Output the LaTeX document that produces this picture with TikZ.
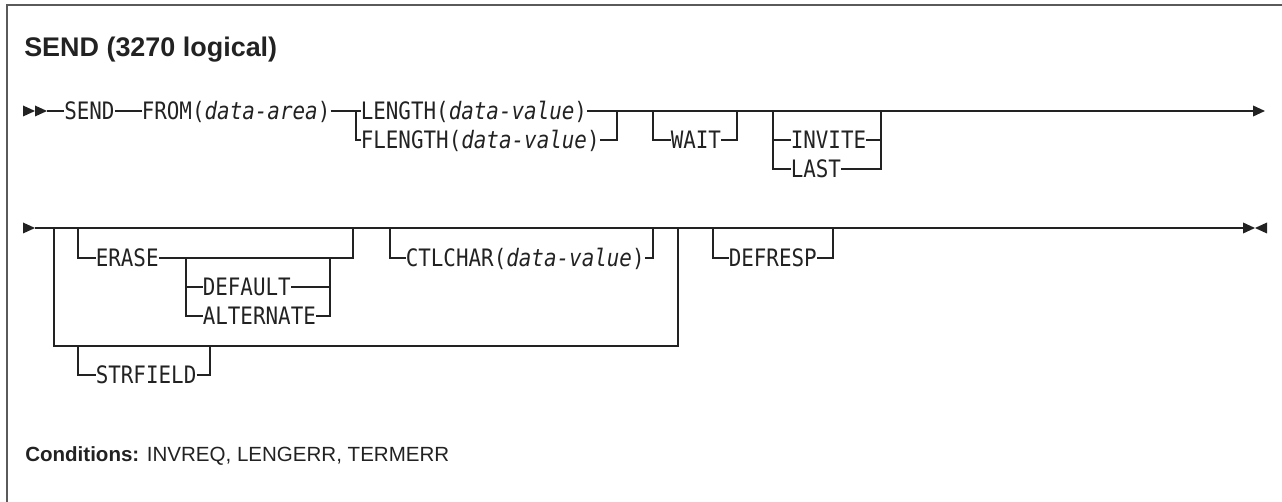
\documentclass[tikz,border=0pt]{standalone}
\usepackage{fontspec}
\setmainfont{Liberation Sans}
\newfontfamily\syn[FakeStretch=0.87,ItalicFont={DejaVu Sans Mono Oblique}]{DejaVu Sans Mono}
\usetikzlibrary{arrows.meta}
\definecolor{ink}{HTML}{222222}
\definecolor{frame}{HTML}{5A5A5A}
\begin{document}
\begin{tikzpicture}[x=0.75pt,y=-0.75pt,
  txt/.style={font=\syn\fontsize{18}{20}\selectfont, anchor=west, inner xsep=0pt, inner ysep=0pt, text height=13.1pt, text depth=0pt, text=ink},
  rr/.style={draw=ink, line width=1.15pt},
  endarrow/.style={-{Triangle[length=9pt,width=8pt]}},
  tip/.style={fill=ink}]
\useasboundingbox (0,0) rectangle (1282,502);
% frame
\draw[frame, line width=1.8pt] (7,502) -- (7,5) -- (1282,5);
% title
\node[anchor=base west, inner sep=0pt, text=ink, font=\bfseries\fontsize{20.2}{24}\selectfont] (title) at (24,57) {SEND (3270 logical)};
% ---------- row 1 ----------
\coordinate (s1) at (47,111);
\coordinate (e1) at (1265,111);
\fill[tip] (23,105.5) -- (35,111) -- (23,116.5) -- cycle;
\fill[tip] (35,105.5) -- (47,111) -- (35,116.5) -- cycle;
\node[txt] (send) at (64,111) {SEND};
\node[txt] (from) at (141.5,111) {FROM(\textit{data-area})};
\node[txt] (len) at (360.5,111) {LENGTH(\textit{data-value})};
\node[txt] (flen) at (360.5,140) {FLENGTH(\textit{data-value})};
\node[txt] (wait) at (670.5,140) {WAIT};
\node[txt] (inv) at (790.5,140) {INVITE};
\node[txt] (last) at (790.5,169) {LAST};
\coordinate (b1l) at (356,111);
\coordinate (b1r) at (617,111);
\coordinate (w1l) at (653,111);
\coordinate (w1r) at (737,111);
\coordinate (i1l) at (773,111);
\coordinate (i1r) at (881,111);
\draw[rr] (s1) -- (send.west);
\draw[rr] (send.east) -- (from.west);
\draw[rr] (from.east) -- (len.west);
\draw[rr,endarrow] (len.east) -- (e1);
\draw[rr] (b1l) |- (flen.west);
\draw[rr] (flen.east) -| (b1r);
\draw[rr] (w1l) |- (wait.west);
\draw[rr] (wait.east) -| (w1r);
\draw[rr] (i1l) |- (last.west);
\draw[rr] (i1l |- inv.west) -- (inv.west);
\draw[rr] (inv.east) -- (i1r |- inv.east);
\draw[rr] (last.east) -| (i1r);
% ---------- row 2 ----------
\coordinate (s2) at (35,228);
\coordinate (e2) at (1255,228);
\fill[tip] (23,222.5) -- (35,228) -- (23,233.5) -- cycle;
\draw[rr,endarrow] (s2) -- (e2);
\fill[tip] (1267,222.5) -- (1255,228) -- (1267,233.5) -- cycle;
% big choice loop
\coordinate (L) at (54,228);
\coordinate (Lb) at (54,346);
\coordinate (Rb) at (678,346);
\coordinate (R) at (678,228);
\draw[rr] (L) -- (Lb) -- (Rb) -- (R);
% ERASE
\coordinate (erl) at (78,228);
\coordinate (err) at (353,228);
\node[txt] (erase) at (95.5,258) {ERASE};
\draw[rr] (erl) |- (erase.west);
\draw[rr] (erase.east) -| (err);
% DEFAULT / ALTERNATE
\coordinate (dl) at (186,258);
\coordinate (dr) at (330,258);
\node[txt] (def) at (202.5,287) {DEFAULT};
\node[txt] (alt) at (202.5,316) {ALTERNATE};
\draw[rr] (dl) |- (alt.west);
\draw[rr] (dl |- def.west) -- (def.west);
\draw[rr] (def.east) -- (dr |- def.east);
\draw[rr] (alt.east) -| (dr);
% CTLCHAR
\coordinate (cl) at (390,228);
\coordinate (cr) at (653,228);
\node[txt] (ctl) at (405.5,258) {CTLCHAR(\textit{data-value})};
\draw[rr] (cl) |- (ctl.west);
\draw[rr] (ctl.east) -| (cr);
% STRFIELD
\coordinate (stl) at (78,346);
\coordinate (str) at (210,346);
\node[txt] (strf) at (95.5,375) {STRFIELD};
\draw[rr] (stl) |- (strf.west);
\draw[rr] (strf.east) -| (str);
% DEFRESP
\coordinate (drl) at (713,228);
\coordinate (drr) at (833,228);
\node[txt] (defr) at (728.5,258) {DEFRESP};
\draw[rr] (drl) |- (defr.west);
\draw[rr] (defr.east) -| (drr);
% conditions
\node[anchor=base west, inner sep=0pt, text=ink, font=\fontsize{15.4}{18}\selectfont] (cond) at (25,461) {\textbf{Conditions:} INVREQ, LENGERR, TERMERR};
\end{tikzpicture}
\end{document}
